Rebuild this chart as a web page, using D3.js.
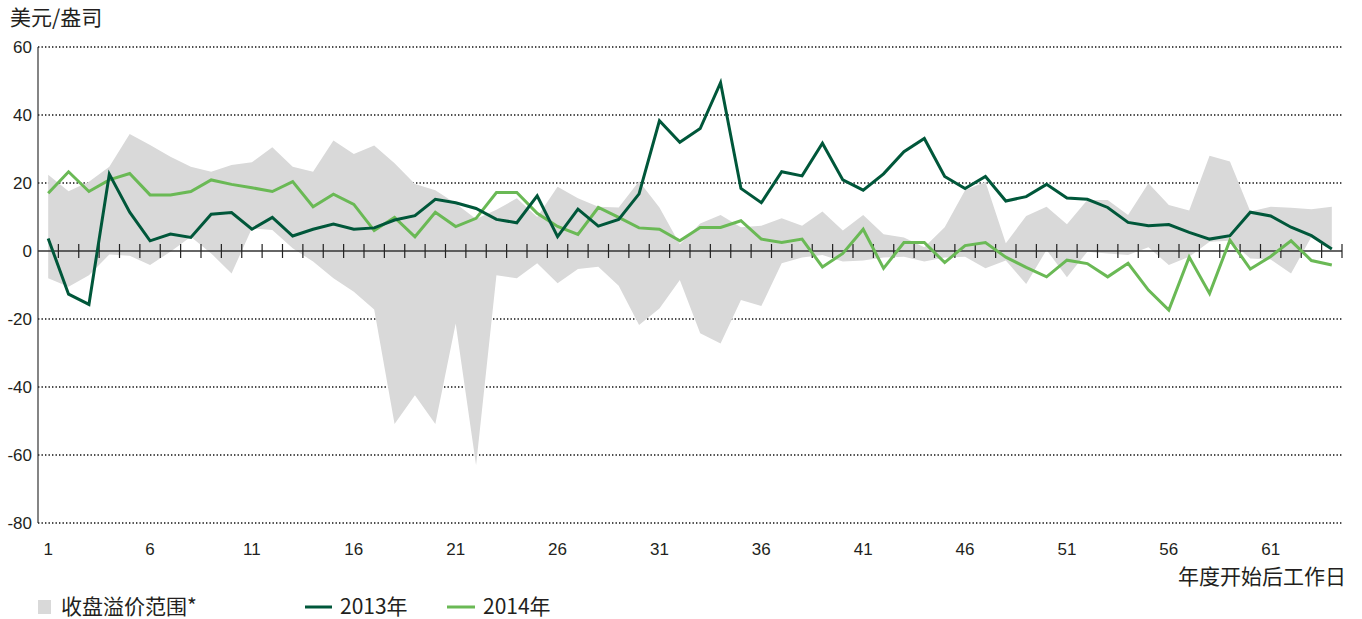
<!DOCTYPE html>
<html>
<head>
<meta charset="utf-8">
<script src="https://cdn.jsdelivr.net/npm/d3@7"></script>
<style>
  body { margin: 0; background: #fff; }
  text { fill: #231f20; }
</style>
</head>
<body>
<div id="chart"></div>
<script>
// 年度开始后工作日 1..64
const days = d3.range(1, 65);
const xTicks = [1, 6, 11, 16, 21, 26, 31, 36, 41, 46, 51, 56, 61];
const yTicks = [60, 40, 20, 0, -20, -40, -60, -80];

const series2013 = [3.7, -12.7, -15.7, 22.6, 11.4, 3.0, 5.0, 4.0, 10.8, 11.3,
  6.4, 9.9, 4.4, 6.4, 7.9, 6.4, 6.8, 9.1, 10.4, 15.2,
  14.2, 12.5, 9.3, 8.3, 16.2, 4.2, 12.3, 7.3, 9.3, 16.8,
  38.3, 32.0, 36.0, 49.5, 18.4, 14.2, 23.3, 22.1, 31.7, 20.9,
  17.9, 22.7, 29.2, 33.1, 21.9, 18.4, 21.9, 14.7, 16.0, 19.6,
  15.6, 15.2, 12.8, 8.4, 7.4, 7.8, 5.5, 3.5, 4.5, 11.4,
  10.3, 7.0, 4.5, 0.6];

const series2014 = [17.0, 23.3, 17.5, 20.9, 22.8, 16.5, 16.5, 17.5, 20.9, 19.6,
  18.6, 17.5, 20.4, 13.0, 16.7, 13.7, 6.0, 9.9, 4.2, 11.4,
  7.2, 9.6, 17.2, 17.2, 11.1, 7.2, 4.9, 12.8, 9.9, 6.8,
  6.4, 3.0, 6.9, 6.9, 8.9, 3.5, 2.5, 3.5, -4.7, -0.7,
  6.4, -5.1, 2.5, 2.5, -3.4, 1.6, 2.5, -1.8, -4.8, -7.6,
  -2.7, -3.7, -7.6, -3.6, -11.5, -17.4, -1.8, -12.5, 3.2, -5.3,
  -1.6, 3.0, -2.8, -4.1];

// 收盘溢价范围 上沿 / 下沿
const bandHigh = [22.4, 17.6, 20.4, 24.8, 34.4, 31.2, 27.7, 24.8, 23.3, 25.3,
  26.1, 30.5, 24.8, 23.3, 32.5, 28.5, 31.0, 25.8, 19.7, 17.9,
  14.0, 9.4, 12.1, 15.5, 10.0, 18.9, 15.5, 13.0, 12.8, 20.5,
  12.8, 2.0, 8.1, 10.6, 7.0, 7.4, 9.6, 7.4, 11.6, 6.0,
  10.6, 4.9, 4.0, 1.1, 7.0, 17.9, 20.4, 2.3, 10.3, 13.0,
  7.9, 15.0, 15.0, 10.6, 19.9, 13.5, 11.9, 28.0, 26.3, 11.6,
  13.0, 12.7, 12.3, 13.0];

const bandLow = [-8.0, -10.5, -7.1, -1.0, -1.4, -4.1, -0.2, 4.2, -0.7, -6.6,
  6.7, 6.2, 0.8, -3.1, -8.0, -12.0, -17.2, -50.9, -42.4, -50.9,
  -21.3, -63.0, -7.1, -8.0, -3.6, -9.5, -5.3, -4.6, -10.2, -21.8,
  -16.9, -8.5, -24.2, -27.2, -14.4, -16.2, -3.6, -1.9, -1.2, -3.1,
  -2.8, -1.9, -1.7, -3.1, -1.9, -1.7, -5.1, -2.8, -9.7, 0.3,
  -7.7, -0.2, -0.7, -1.2, 1.1, -4.1, -1.7, 2.7, 3.0, -2.2,
  -2.5, -6.6, 4.2, 0.3];

const width = 1362, height = 619;
const margin = { left: 38, right: 20, top: 47, bottom: 96 };
const numFont = "'Liberation Sans', Arial, sans-serif";
const cjkFont = "'Noto Sans CJK SC', 'Liberation Sans', sans-serif";

const svg = d3.select("#chart").append("svg")
  .attr("width", width).attr("height", height);

const x = d3.scaleLinear()
  .domain([0.5, 64.5])
  .range([margin.left, width - margin.right]);
const y = d3.scaleLinear()
  .domain([-80, 60])
  .range([height - margin.bottom, margin.top]);

// grid
svg.append("g")
  .selectAll("line")
  .data(yTicks.filter((d) => d !== 0))
  .join("line")
  .attr("x1", x(0.5)).attr("x2", x(64.5))
  .attr("y1", (d) => y(d)).attr("y2", (d) => y(d))
  .attr("stroke", "#111")
  .attr("stroke-width", 1.6)
  .attr("stroke-dasharray", "1.4,2.1");

// band
const band = days.map((d, i) => ({ day: d, hi: bandHigh[i], lo: bandLow[i] }));
svg.append("path")
  .datum(band)
  .attr("fill", "#d9d9d9")
  .attr("d", d3.area().x((d) => x(d.day)).y0((d) => y(d.lo)).y1((d) => y(d.hi)));

// axes
svg.append("line")
  .attr("x1", x(0.5)).attr("x2", x(0.5))
  .attr("y1", y(60)).attr("y2", y(-80))
  .attr("stroke", "#333").attr("stroke-width", 1.2);
svg.append("line")
  .attr("x1", x(0.5)).attr("x2", x(64.5))
  .attr("y1", y(0)).attr("y2", y(0))
  .attr("stroke", "#333").attr("stroke-width", 1.4);
svg.append("g")
  .selectAll("line")
  .data(days)
  .join("line")
  .attr("x1", (d) => x(d + 0.5)).attr("x2", (d) => x(d + 0.5))
  .attr("y1", y(0) - 7).attr("y2", y(0) + 7)
  .attr("stroke", "#222").attr("stroke-width", 1.2);

// lines
const line = d3.line().x((d) => x(d[0])).y((d) => y(d[1]));
const addLine = (vals, color) => {
  svg.append("path")
    .datum(days.map((d, i) => [d, vals[i]]))
    .attr("fill", "none")
    .attr("stroke", color)
    .attr("stroke-width", 3)
    .attr("stroke-linejoin", "miter")
    .attr("d", line);
};
addLine(series2014, "#6ab955");
addLine(series2013, "#00573a");

// y labels
svg.append("g")
  .selectAll("text")
  .data(yTicks)
  .join("text")
  .attr("x", 32)
  .attr("y", (d) => y(d))
  .attr("dy", "0.35em")
  .attr("text-anchor", "end")
  .attr("font-family", numFont)
  .attr("font-size", 17)
  .text((d) => d);

// x labels
svg.append("g")
  .selectAll("text")
  .data(xTicks)
  .join("text")
  .attr("x", (d) => x(d))
  .attr("y", 549)
  .attr("dy", "0.35em")
  .attr("text-anchor", "middle")
  .attr("font-family", numFont)
  .attr("font-size", 17)
  .text((d) => d);

svg.append("text")
  .attr("x", 10).attr("y", 18).attr("dy", "0.35em")
  .attr("font-family", cjkFont).attr("font-size", 21)
  .text("美元/盎司");

svg.append("text")
  .attr("x", 1346).attr("y", 577).attr("dy", "0.35em")
  .attr("text-anchor", "end")
  .attr("font-family", cjkFont).attr("font-size", 21)
  .text("年度开始后工作日");

// legend
const lg = svg.append("g").attr("font-family", cjkFont).attr("font-size", 21);
lg.append("rect").attr("x", 38).attr("y", 600).attr("width", 13).attr("height", 14).attr("fill", "#d9d9d9");
lg.append("text").attr("x", 61).attr("y", 607).attr("dy", "0.35em").text("收盘溢价范围*");
lg.append("line").attr("x1", 305).attr("x2", 332).attr("y1", 607).attr("y2", 607)
  .attr("stroke", "#00573a").attr("stroke-width", 3);
lg.append("text").attr("x", 340).attr("y", 607).attr("dy", "0.35em").text("2013年");
lg.append("line").attr("x1", 447).attr("x2", 475).attr("y1", 607).attr("y2", 607)
  .attr("stroke", "#6ab955").attr("stroke-width", 3);
lg.append("text").attr("x", 483).attr("y", 607).attr("dy", "0.35em").text("2014年");
</script>
</body>
</html>
